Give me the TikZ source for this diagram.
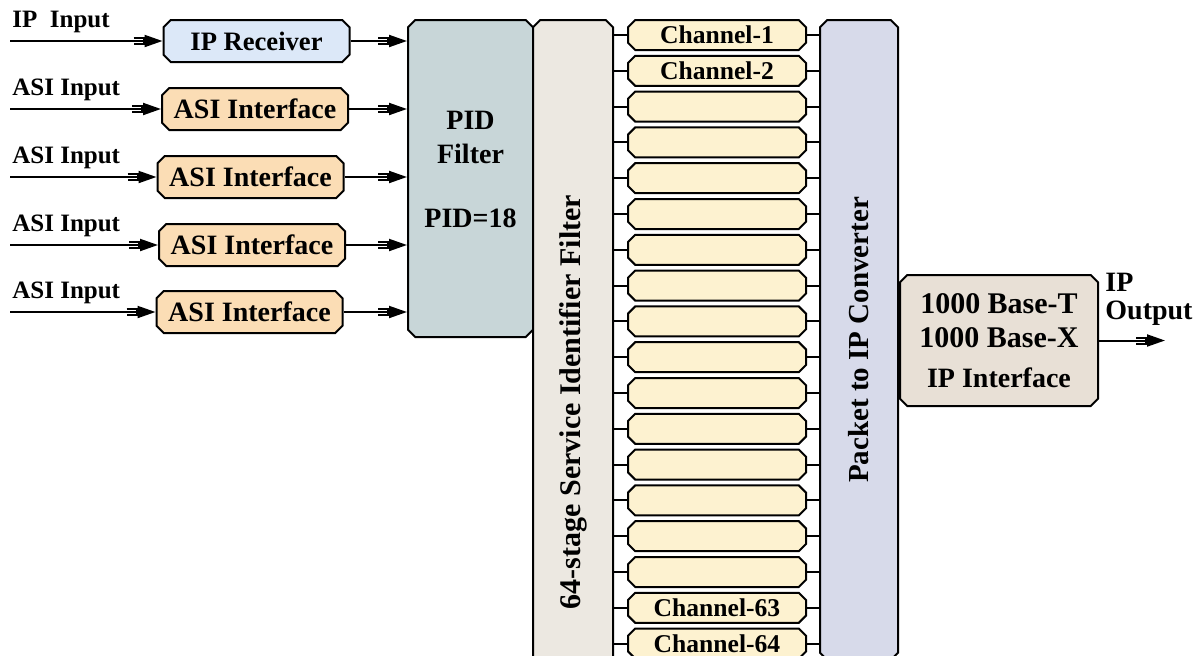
\documentclass[tikz,border=0pt]{standalone}
\usepackage{fontspec}
\setmainfont{Liberation Serif}
\usetikzlibrary{arrows.meta,shapes.misc,calc}
\definecolor{rxblue}{HTML}{DCE8F8}
\definecolor{asiorange}{HTML}{FBDDB5}
\definecolor{pidgray}{HTML}{C8D6D8}
\definecolor{sidbeige}{HTML}{ECE8E1}
\definecolor{chanyellow}{HTML}{FDF2D0}
\definecolor{convblue}{HTML}{D7DAEA}
\definecolor{ifacetan}{HTML}{E8E0D6}
\newcommand{\fsz}[1]{\bfseries\fontsize{#1}{#1}\selectfont}
\tikzset{
  blk/.style      = {chamfered rectangle,chamfered rectangle xsep=1.8pt,chamfered rectangle ysep=1.8pt,
                     draw,line width=1pt,inner sep=0pt,align=flush center,font=\fsz{14}},
  inbox/.style    = {blk,text width=89.4pt,text height=13.2pt,text depth=4.2pt},
  chanbox/.style  = {blk,fill=chanyellow,text width=85.4pt,text height=9.9pt,text depth=1.5pt,font=\fsz{12.8}},
  sigarr/.style   = {-{Bracket[width=4pt,length=5pt,sep=0pt,line width=1pt]Triangle[length=9pt,width=6pt]},line width=1pt},
  link/.style     = {line width=1pt},
  inlabel/.style  = {anchor=south west,inner sep=1pt,font=\fsz{12.5}}
}
\begin{document}
\begin{tikzpicture}[x=0.5pt,y=-0.5pt]
  \useasboundingbox (0,0) rectangle (1196,655);
  \clip (0,0) rectangle (1196,655);
  % input stage
  \node[inbox,fill=rxblue,font=\fsz{13.3}] (rx)   at (256.5,41) {IP Receiver};
  \node[inbox,fill=asiorange]              (asi1) at (255,109)  {ASI Interface};
  \node[inbox,fill=asiorange]              (asi2) at (250.5,177){ASI Interface};
  \node[inbox,fill=asiorange]              (asi3) at (252,245)  {ASI Interface};
  \node[inbox,fill=asiorange]              (asi4) at (249.5,312){ASI Interface};
  \coordinate (in0) at (10,41);
  \coordinate (in1) at (10,109);
  \coordinate (in2) at (10,177);
  \coordinate (in3) at (10,245);
  \coordinate (in4) at (10,312);
  \node[inlabel] (lbl0) at (10,35) {IP~~Input};
  \foreach \k in {1,...,4}
    \node[inlabel] (lbl\k) at ($(in\k)+(0,-6)$) {ASI Input};
  % filters
  \node[blk,fill=pidgray,text width=58.9pt,text height=52.7pt,text depth=102.2pt] (pid) at (470.5,178.5)
    {PID\\[3pt]Filter\\[18pt]PID=18};
  \node[blk,fill=sidbeige,text width=36.4pt,text height=189.2pt,text depth=189.2pt] (sid) at (573,402) {};
  \node[rotate=90,font=\fsz{15}] (sidtxt) at (sid) {64-stage Service Identifier Filter};
  \node[blk,fill=convblue,text width=35.4pt,text height=158.2pt,text depth=158.2pt] (conv) at (859,340) {};
  \node[rotate=90,font=\fsz{14.5}] (convtxt) at (conv) {Packet to IP Converter};
  % input arrows
  \foreach \n/\b in {in0/rx,in1/asi1,in2/asi2,in3/asi3,in4/asi4} {
    \draw[sigarr] (\n) -- (\b.west);
    \draw[sigarr] (\b.east) -- (\b.east -| pid.west);
  }
  % channel bank
  \foreach \i in {1,...,18} {
    \ifnum\i=1 \def\chname{Channel-1}\else
    \ifnum\i=2 \def\chname{Channel-2}\else
    \ifnum\i=17 \def\chname{Channel-63}\else
    \ifnum\i=18 \def\chname{Channel-64}\else
    \def\chname{}\fi\fi\fi\fi
    \node[chanbox] (ch\i) at (717,{35+35.8*(\i-1)}) {\chname};
    \draw[link] (ch\i.west -| sid.east) -- (ch\i.west);
    \draw[link] (ch\i.east) -- (ch\i.east -| conv.west);
  }
  % output stage
  \node[blk,fill=ifacetan,text width=95.4pt,text height=17.2pt,text depth=44.7pt,font=\fsz{15}] (ifc) at (999,340.5)
    {1000 Base-T\\[2pt]1000 Base-X\\[5pt]{\fsz{14}IP Interface}};
  \coordinate (out) at (1165,340.5);
  \draw[sigarr] (ifc.east) -- (out);
  \node[inlabel,align=left,font=\fsz{14}] (outlbl) at (1103,328) {IP\\Output};
\end{tikzpicture}
\end{document}
